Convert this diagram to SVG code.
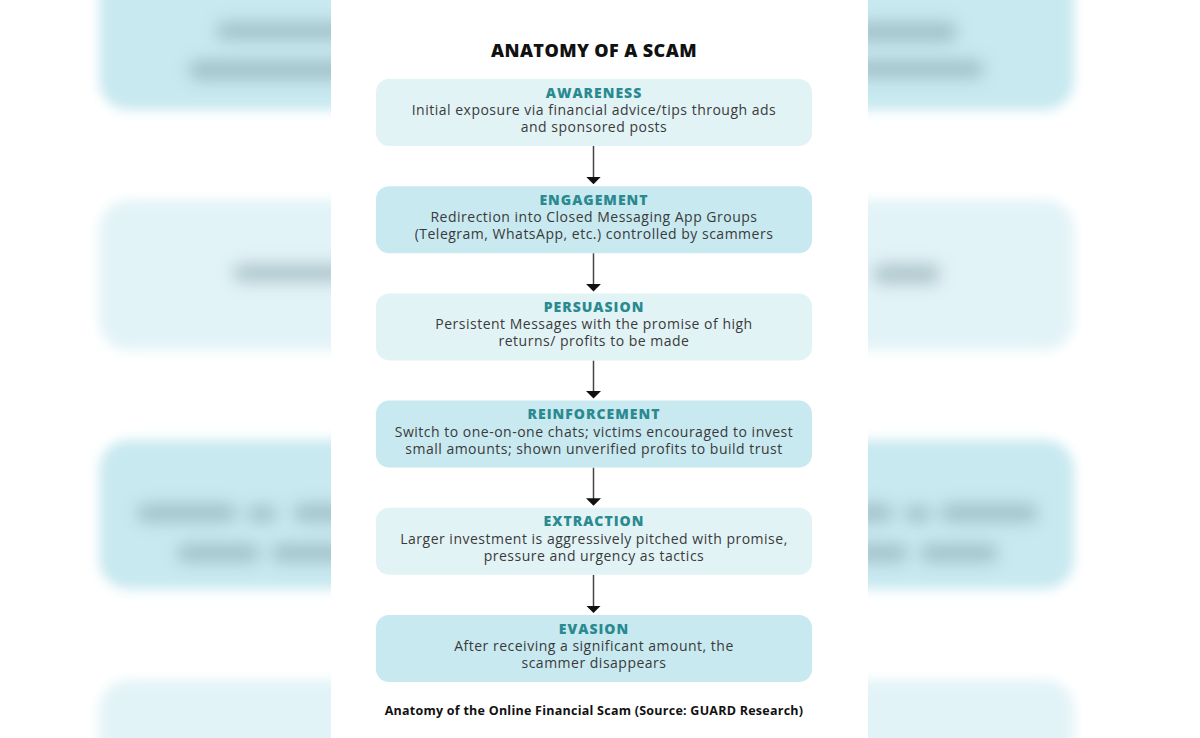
<svg xmlns="http://www.w3.org/2000/svg" width="1200" height="738" viewBox="0 0 1200 738">
  <defs>
    <filter id="blur" x="-20%" y="-20%" width="140%" height="140%">
      <feGaussianBlur stdDeviation="6"/>
    </filter>
    <filter id="blur2" x="-30%" y="-100%" width="160%" height="300%">
      <feGaussianBlur stdDeviation="8"/>
    </filter>
    <marker id="arrow" markerUnits="userSpaceOnUse" markerWidth="8" markerHeight="15" refX="3.5" refY="7.5" orient="auto">
      <path d="M0,0 L7.5,7.5 L0,15 Z" fill="#111111"/>
    </marker>
  </defs>
  <style>
    .bgdark { fill: #c8e9f0; }
    .bglight { fill: #e2f3f7; }
    .bgtxt { fill: #7f9ca4; opacity: 0.5; }
    .dark { fill: #c8e9f0; }
    .light { fill: #e2f3f6; }
    .title { font-family: "Open Sans", "Liberation Sans", sans-serif; font-weight: 800; font-size: 18px; letter-spacing: 0.4px; fill: #111111; text-anchor: middle; }
    .head { font-family: "Open Sans", "Liberation Sans", sans-serif; font-weight: 800; font-size: 14px; letter-spacing: 1px; fill: #2a8a90; text-anchor: middle; }
    .body { font-family: "Open Sans", "Liberation Sans", sans-serif; font-size: 14px; letter-spacing: 0.5px; fill: #3a3a3a; text-anchor: middle; }
    .caption { font-family: "Open Sans", "Liberation Sans", sans-serif; font-weight: 700; font-size: 12.5px; letter-spacing: 0.25px; fill: #111111; text-anchor: middle; }
    .conn { stroke: #444444; stroke-width: 1.5; fill: none; }
  </style>

  <rect x="0" y="0" width="1200" height="738" fill="#ffffff"/>

  <!-- blurred enlarged background -->
  <g id="background">
    <g filter="url(#blur)">
      <rect class="bgdark" x="99.4" y="-40" width="974.5" height="150" rx="29"/>
      <rect class="bglight" x="99.4" y="200" width="974.5" height="150" rx="29"/>
      <rect class="bgdark" x="99.4" y="440" width="974.5" height="149" rx="29"/>
      <rect class="bglight" x="99.4" y="680" width="974.5" height="150" rx="29"/>
    </g>
    <g filter="url(#blur2)">
      <rect class="bgtxt" x="216" y="22" width="140" height="18" rx="9"/>
      <rect class="bgtxt" x="189" y="60" width="160" height="20" rx="9"/>
      <rect class="bgtxt" x="233" y="264" width="130" height="18" rx="9"/>
      <rect class="bgtxt" x="137" y="504" width="100" height="18" rx="9"/>
      <rect class="bgtxt" x="247" y="506" width="30" height="16" rx="8"/>
      <rect class="bgtxt" x="293" y="504" width="60" height="18" rx="9"/>
      <rect class="bgtxt" x="177" y="544" width="83" height="18" rx="9"/>
      <rect class="bgtxt" x="271" y="544" width="80" height="18" rx="9"/>
      <rect class="bgtxt" x="852" y="22" width="105" height="20" rx="9"/>
      <rect class="bgtxt" x="840" y="60" width="144" height="18" rx="9"/>
      <rect class="bgtxt" x="873" y="264" width="67" height="20" rx="9"/>
      <rect class="bgtxt" x="850" y="504" width="43" height="18" rx="9"/>
      <rect class="bgtxt" x="904" y="506" width="27" height="16" rx="8"/>
      <rect class="bgtxt" x="940" y="504" width="98" height="18" rx="9"/>
      <rect class="bgtxt" x="850" y="544" width="58" height="18" rx="9"/>
      <rect class="bgtxt" x="920" y="544" width="78" height="18" rx="9"/>
    </g>
  </g>

  <!-- central white panel -->
  <rect x="331" y="0" width="537" height="738" fill="#ffffff"/>

  <text class="title" x="594" y="57">ANATOMY OF A SCAM</text>

  <g id="connectors">
    <line class="conn" x1="593.5" y1="146" x2="593.5" y2="180.2" marker-end="url(#arrow)"/>
    <line class="conn" x1="593.5" y1="253.2" x2="593.5" y2="287.4" marker-end="url(#arrow)"/>
    <line class="conn" x1="593.5" y1="360.4" x2="593.5" y2="394.6" marker-end="url(#arrow)"/>
    <line class="conn" x1="593.5" y1="467.6" x2="593.5" y2="501.8" marker-end="url(#arrow)"/>
    <line class="conn" x1="593.5" y1="574.8" x2="593.5" y2="609" marker-end="url(#arrow)"/>
  </g>

  <g id="awareness">
    <rect class="light" x="376" y="79" width="436" height="67" rx="13"/>
    <text class="head" x="594" y="97.5">AWARENESS</text>
    <text class="body" x="594" y="115">Initial exposure via financial advice/tips through ads</text>
    <text class="body" x="594" y="132">and sponsored posts</text>
  </g>

  <g id="engagement">
    <rect class="dark" x="376" y="186.2" width="436" height="67" rx="13"/>
    <text class="head" x="594" y="204.7">ENGAGEMENT</text>
    <text class="body" x="594" y="222.2">Redirection into Closed Messaging App Groups</text>
    <text class="body" x="594" y="239.2">(Telegram, WhatsApp, etc.) controlled by scammers</text>
  </g>

  <g id="persuasion">
    <rect class="light" x="376" y="293.4" width="436" height="67" rx="13"/>
    <text class="head" x="594" y="311.9">PERSUASION</text>
    <text class="body" x="594" y="329.4">Persistent Messages with the promise of high</text>
    <text class="body" x="594" y="346.4">returns/ profits to be made</text>
  </g>

  <g id="reinforcement">
    <rect class="dark" x="376" y="400.6" width="436" height="67" rx="13"/>
    <text class="head" x="594" y="419.1">REINFORCEMENT</text>
    <text class="body" x="594" y="436.6">Switch to one-on-one chats; victims encouraged to invest</text>
    <text class="body" x="594" y="453.6">small amounts; shown unverified profits to build trust</text>
  </g>

  <g id="extraction">
    <rect class="light" x="376" y="507.8" width="436" height="67" rx="13"/>
    <text class="head" x="594" y="526.3">EXTRACTION</text>
    <text class="body" x="594" y="543.8">Larger investment is aggressively pitched with promise,</text>
    <text class="body" x="594" y="560.8">pressure and urgency as tactics</text>
  </g>

  <g id="evasion">
    <rect class="dark" x="376" y="615" width="436" height="67" rx="13"/>
    <text class="head" x="594" y="633.5">EVASION</text>
    <text class="body" x="594" y="651">After receiving a significant amount, the</text>
    <text class="body" x="594" y="668">scammer disappears</text>
  </g>

  <text class="caption" x="594" y="714.5">Anatomy of the Online Financial Scam (Source: GUARD Research)</text>
</svg>
